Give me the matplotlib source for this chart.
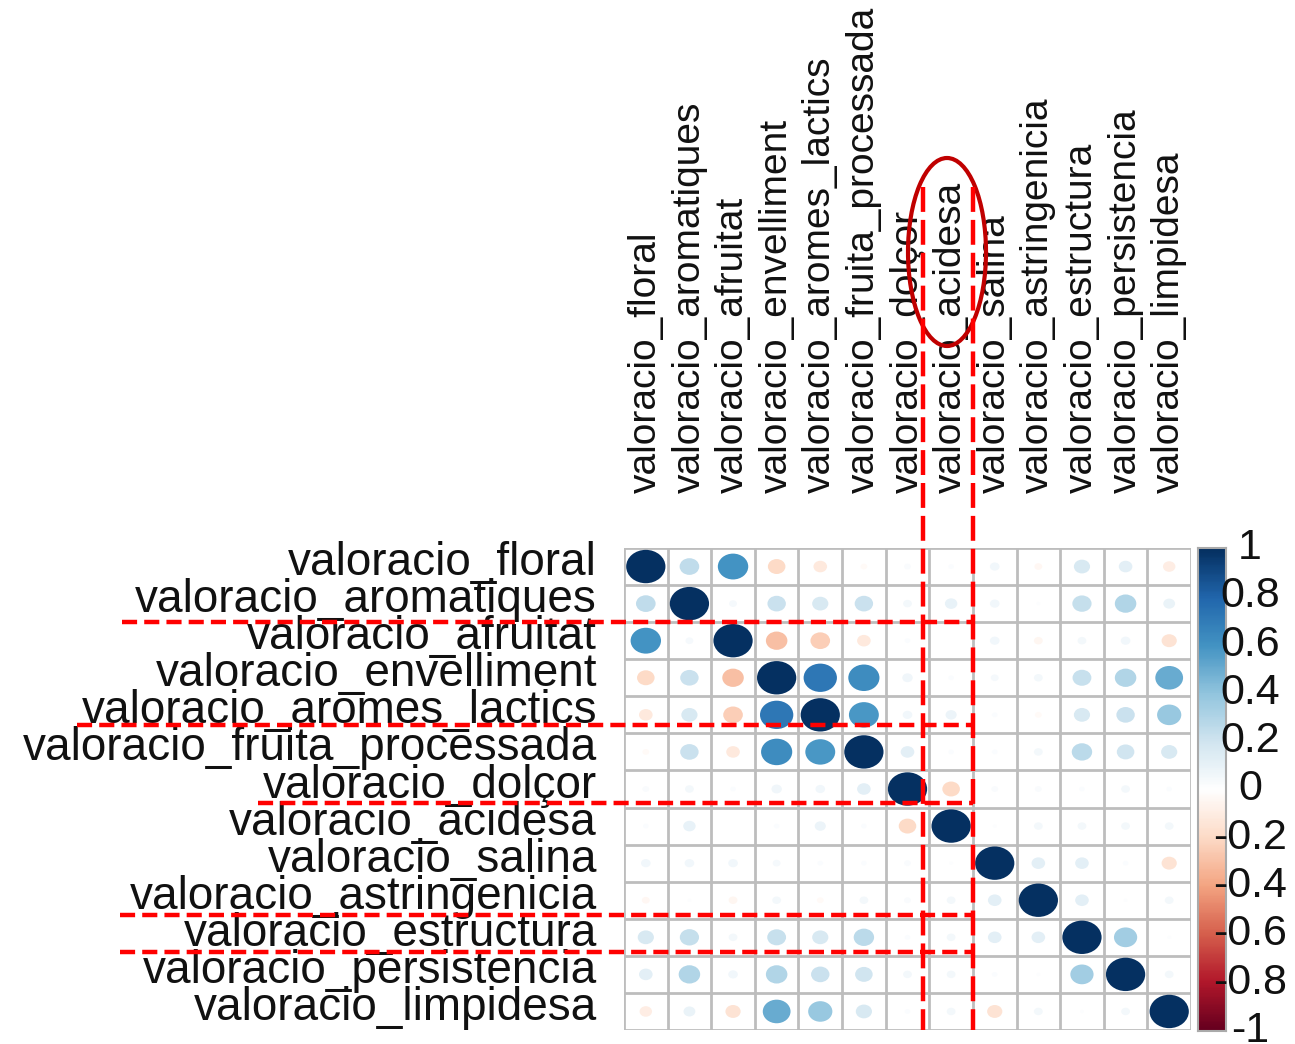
import numpy as np
import matplotlib.pyplot as plt
from matplotlib.patches import Ellipse
from matplotlib.colors import LinearSegmentedColormap

# Variable names (rows and columns of the correlation matrix)
labels = ['valoracio_floral', 'valoracio_aromatiques', 'valoracio_afruitat',
          'valoracio_envelliment', 'valoracio_aromes_lactics',
          'valoracio_fruita_processada', 'valoracio_dolçor', 'valoracio_acidesa',
          'valoracio_salina', 'valoracio_astringenicia', 'valoracio_estructura',
          'valoracio_persistencia', 'valoracio_limpidesa']

# Correlations (symmetric)
corr = [
    [1.00, 0.25, 0.60, -0.20, -0.12, -0.03, 0.03, 0.02, 0.06, -0.04, 0.17, 0.12, -0.10],
    [0.25, 1.00, 0.04, 0.22, 0.17, 0.22, 0.05, 0.10, 0.06, 0.01, 0.24, 0.30, 0.09],
    [0.60, 0.04, 1.00, -0.30, -0.25, -0.12, 0.02, 0.00, 0.06, -0.05, 0.05, 0.06, -0.15],
    [-0.20, 0.22, -0.30, 1.00, 0.72, 0.63, 0.07, 0.02, 0.04, 0.05, 0.23, 0.30, 0.50],
    [-0.12, 0.17, -0.25, 0.72, 1.00, 0.58, 0.06, 0.08, 0.02, -0.03, 0.17, 0.22, 0.38],
    [-0.03, 0.22, -0.12, 0.63, 0.58, 1.00, 0.12, 0.02, 0.02, 0.05, 0.27, 0.20, 0.17],
    [0.03, 0.05, 0.02, 0.07, 0.06, 0.12, 1.00, -0.20, 0.03, 0.03, 0.02, 0.05, 0.02],
    [0.02, 0.10, 0.00, 0.02, 0.08, 0.02, -0.20, 1.00, 0.01, 0.05, 0.05, 0.05, 0.05],
    [0.06, 0.06, 0.06, 0.04, 0.02, 0.02, 0.03, 0.01, 1.00, 0.12, 0.12, 0.02, -0.15],
    [-0.04, 0.01, -0.05, 0.05, -0.03, 0.05, 0.03, 0.05, 0.12, 1.00, 0.12, 0.01, 0.05],
    [0.17, 0.24, 0.05, 0.23, 0.17, 0.27, 0.02, 0.05, 0.12, 0.12, 1.00, 0.35, 0.01],
    [0.12, 0.30, 0.06, 0.30, 0.22, 0.20, 0.05, 0.05, 0.02, 0.01, 0.35, 1.00, 0.05],
    [-0.10, 0.09, -0.15, 0.50, 0.38, 0.17, 0.02, 0.05, -0.15, 0.05, 0.01, 0.05, 1.00],
]

cbar_ticks = [1, 0.8, 0.6, 0.4, 0.2, 0, -0.2, -0.4, -0.6, -0.8, -1]
cbar_labels = ['1', '0.8', '0.6', '0.4', '0.2', '0', '-0.2', '-0.4', '-0.6', '-0.8', '-1']

W, H = 1295, 1044
font = 'Liberation Sans'

rdbu = ["#67001F", "#B2182B", "#D6604D", "#F4A582", "#FDDBC7", "#FFFFFF",
        "#D1E5F0", "#92C5DE", "#4393C3", "#2166AC", "#053061"]
cmap = LinearSegmentedColormap.from_list('corrplot', rdbu)


def fig_box(x0, y0, x1, y1):
    # pixel box (top-left origin) -> figure fraction rect
    return [x0 / W, 1 - y1 / H, (x1 - x0) / W, (y1 - y0) / H]


fig = plt.figure(figsize=(W / 100, H / 100), dpi=100)

# matrix
mx0, my0, mx1, my1 = 624, 548, 1191, 1030
ax = fig.add_axes(fig_box(mx0, my0, mx1, my1))
n = len(labels)
ax.set_xlim(0, n)
ax.set_ylim(n, 0)
ax.set_axis_off()

cm = np.array(corr)
for i in range(n):
    for j in range(n):
        r = cm[i, j]
        d = 0.9 * np.sqrt(abs(r))
        ax.add_patch(Ellipse((j + 0.5, i + 0.5), d, d, facecolor=cmap((r + 1) / 2),
                             edgecolor='none', zorder=2))
for k in range(n + 1):
    ax.axhline(k, color='#BDBDBD', lw=2, zorder=1)
    ax.axvline(k, color='#BDBDBD', lw=2, zorder=1)

cw = (mx1 - mx0) / n
ch = (my1 - my0) / n

# row labels
for i, lab in enumerate(labels):
    yb = my0 + ch * (i + 0.5) + 8.5
    fig.text(597 / W, 1 - yb / H, lab, ha='right', va='baseline',
             fontsize=33, family=font, color='#111111')

# column labels
for j, lab in enumerate(labels):
    xc = mx0 + cw * (j + 0.5)
    fig.text(xc / W, 1 - 493 / H, lab, ha='center', va='bottom', rotation=90,
             fontsize=28, family=font, color='#111111')

# colour legend
cx0, cy0, cx1, cy1 = 1198, 548, 1226, 1031
cax = fig.add_axes(fig_box(cx0, cy0, cx1, cy1))
grad = np.linspace(1, -1, 200).reshape(-1, 1)
cax.imshow(grad, cmap=cmap, vmin=-1, vmax=1, aspect='auto', extent=[0, 1, -1, 1])
cax.set_xlim(0, 1)
cax.set_ylim(-1, 1)
cax.set_xticks([])
cax.set_yticks([])
for s in cax.spines.values():
    s.set_color('#AAAAAA')
    s.set_linewidth(1.5)
xl = (1250 - cx0) / (cx1 - cx0)
for t, lab in zip(cbar_ticks, cbar_labels):
    cax.text(xl, t, lab, ha='center', va='center', fontsize=31, family=font,
             color='#111111', clip_on=False)

# red annotations on top
ov = fig.add_axes([0, 0, 1, 1], zorder=10)
ov.set_xlim(0, W)
ov.set_ylim(H, 0)
ov.set_axis_off()
ov.patch.set_alpha(0)

red = '#FF0000'
hdash = (0, (3.4, 1.6))
vdash = (0, (5.6, 1.8))
hlines = [(622, 122), (725, 77), (803, 258), (915, 120), (952, 120)]
for y, xs in hlines:
    ov.plot([xs, 973], [y, y], color=red, lw=3.2, linestyle=hdash)
for x in [923, 973]:
    ov.plot([x, x], [187, 1030], color=red, lw=3.2, linestyle=vdash)
ov.add_patch(Ellipse((947, 252), 78, 188, facecolor='none', edgecolor='#C00000', lw=3))

fig.savefig('out.png', dpi=100)
